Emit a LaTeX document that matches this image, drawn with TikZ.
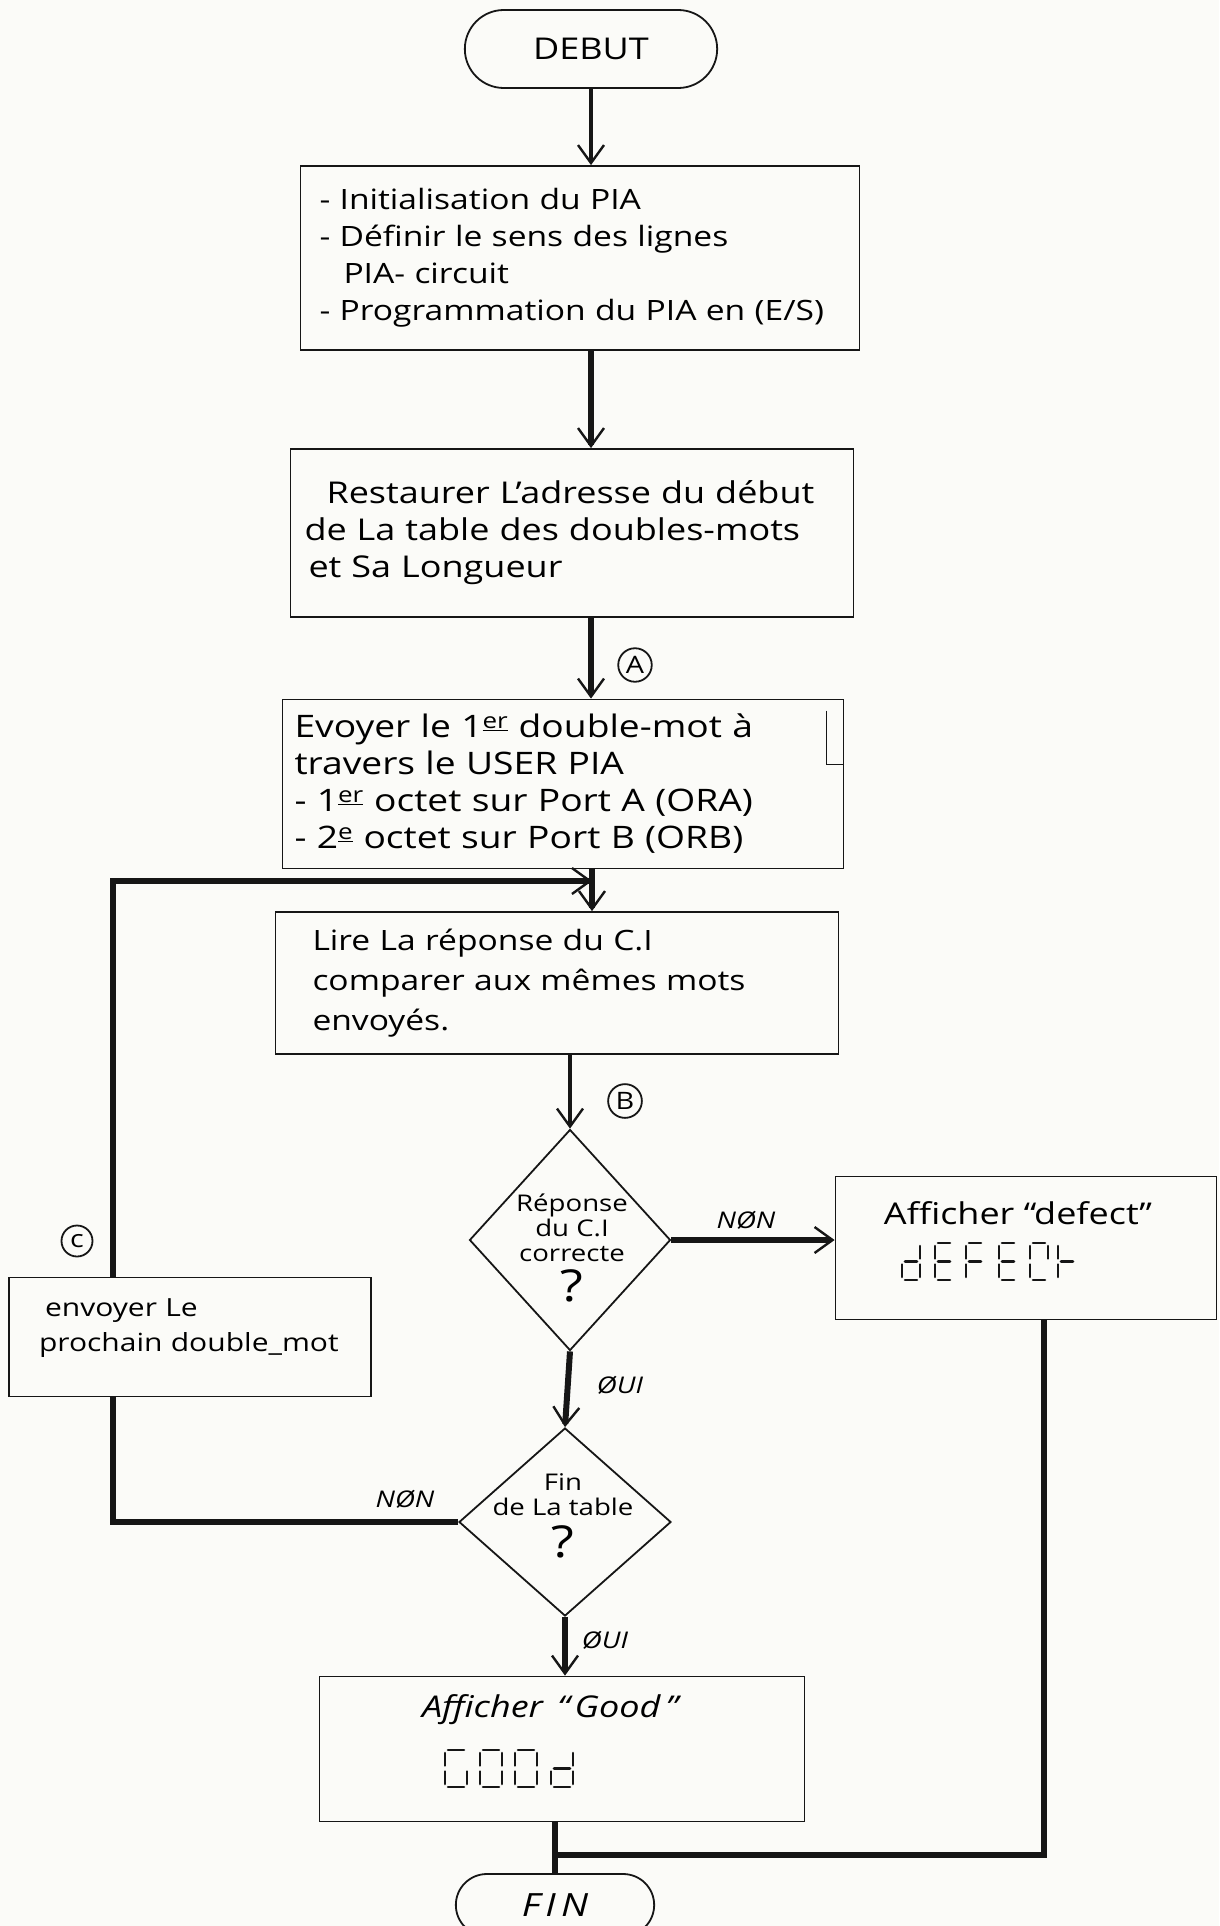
\documentclass[tikz,border=0pt]{standalone}
\usepackage{fontspec}
\usepackage{xcolor}
\usepackage{tikz}
\usetikzlibrary{shapes.geometric, shapes.misc, arrows.meta, positioning, calc}
\setmainfont{Open Sans}[FakeStretch=1.2]
\definecolor{inkColor}{RGB}{22, 22, 22}
\definecolor{paperColor}{RGB}{251, 251, 248}

% seven segment character: x, y (top left), width, height, segments
\newcommand{\sevenseg}[5]{%
  \begin{scope}[shift={(#1,#2)}, x=#3pt, y=-#4pt]
    \coordinate (a1) at (0,0);   \coordinate (a2) at (1,0);
    \coordinate (b1) at (1,0);   \coordinate (b2) at (1,0.5);
    \coordinate (c1) at (1,0.5); \coordinate (c2) at (1,1);
    \coordinate (d1) at (0,1);   \coordinate (d2) at (1,1);
    \coordinate (e1) at (0,0.5); \coordinate (e2) at (0,1);
    \coordinate (f1) at (0,0);   \coordinate (f2) at (0,0.5);
    \coordinate (g1) at (0,0.5); \coordinate (g2) at (1,0.5);
    \edef\seglist{#5}
    \foreach \s in \seglist { \draw[segment] (\s1) -- (\s2); }
  \end{scope}}

\begin{document}
\begin{tikzpicture}[
    x=1pt, y=-1pt,
    box/.style={
        rectangle,
        draw=inkColor,
        line width=1.8pt,
        align=left,
        font=\fontsize{28}{37}\selectfont
    },
    terminal/.style={rounded rectangle, draw=inkColor, line width=1.8pt,
        font=\fontsize{30}{36}\selectfont},
    decision/.style={diamond, draw=inkColor, line width=1.8pt, inner sep=0pt},
    question/.style={align=center, font=\fontsize{23}{25}\selectfont},
    flow/.style={draw=inkColor, line width=4pt,
        -{Straight Barb[length=18pt, width=26pt, line width=2.4pt]}},
    heavyflow/.style={flow, line width=6pt},
    heavyline/.style={draw=inkColor, line width=6pt},
    answer/.style={font=\itshape\fontsize{23}{25}\selectfont},
    ringlabel/.style={circle, draw=inkColor, line width=1.8pt, inner sep=3pt,
        minimum size=31pt, font=\fontsize{24}{24}\selectfont},
    title/.style={font=\fontsize{30}{36}\selectfont},
    segment/.style={draw=inkColor, line width=2.6pt, line cap=round,
        shorten <=3pt, shorten >=3pt}
]
    \path[use as bounding box, fill=paperColor] (0,0) rectangle (1219,1926);

    % Start
    \node[terminal, minimum width=259pt, minimum height=78pt] (debut) at (591,49) {DEBUT};

    % Set up
    \node[box, text width=521pt, inner xsep=19pt, minimum height=184pt] (init) at (580,258)
        {- Initialisation du PIA\\
         - Définir le sens des lignes\\
         \hspace*{24pt}PIA- circuit\\
         - Programmation du PIA en (E/S)};
    \node[box, text width=535pt, inner xsep=14pt, minimum height=168pt,
          font=\fontsize{30}{37}\selectfont] (restore) at (572,533)
        {\hspace*{22pt}Restaurer L’adresse du début\\
         de La table des doubles-mots\\
         \hspace*{4pt}et Sa Longueur};
    \node[box, text width=537pt, inner xsep=12pt, minimum height=169pt,
          font=\fontsize{31}{37}\selectfont] (send) at (563,784)
        {Evoyer le 1\textsuperscript{\underline{er}} double-mot à\\
         travers le USER PIA\\
         - 1\textsuperscript{\underline{er}} octet sur Port A (ORA)\\
         - 2\textsuperscript{\underline{e}} octet sur Port B (ORB)};
    \draw[draw=inkColor, line width=1.4pt] ($(send.north east)+(-18,12)$) -- ++(0,54) -- ++(18,0);

    % Read and compare
    \node[box, text width=489pt, inner xsep=37pt, minimum height=142pt,
          font=\fontsize{28}{40}\selectfont] (read) at (557,983)
        {Lire La réponse du C.I\\
         comparer aux mêmes mots\\
         envoyés.};

    % Tests
    \node[decision, minimum width=201pt, minimum height=221pt] (test) at (570,1240) {};
    \node[question] (testtxt) at (572,1248)
        {Réponse\\ du C.I\\ correcte\\[7pt] {\fontsize{44}{44}\selectfont ?}};
    \node[decision, minimum width=212pt, minimum height=188pt] (last) at (565,1522) {};
    \node[question] (lasttxt) at (563,1516)
        {Fin\\ de La table\\[9pt] {\fontsize{44}{44}\selectfont ?}};

    % Outcomes
    \node[box, minimum width=381pt, minimum height=143pt] (defect) at (1026,1248) {};
    \node[title] (defecttxt) at (1018,1213) {Afficher ``defect''};
    \node[box, text width=334pt, inner xsep=14pt, minimum height=119pt,
          font=\fontsize{25}{35}\selectfont] (next) at (190,1337)
        {\hspace*{22pt}envoyer Le\\ \hspace*{16pt}prochain double\_mot\\[-12pt]\mbox{}};
    \node[box, minimum width=485pt, minimum height=145pt] (good) at (562,1749) {};
    \node[title, font=\itshape\fontsize{30}{36}\selectfont] (goodtxt) at (550,1710)
        {Afficher \,``\,Good\,''};

    % End
    \node[terminal, minimum width=205pt, minimum height=62pt,
          font=\itshape\fontsize{32}{36}\selectfont] (fin) at (555,1905) {F\,I\,N};

    % Displays
    \sevenseg{902}{1243}{18}{37}{b,c,d,e,g}
    \sevenseg{935}{1243}{18}{37}{a,d,e,f,g}
    \sevenseg{966}{1243}{18}{37}{a,e,f,g}
    \sevenseg{999}{1243}{18}{37}{a,d,e,f,g}
    \sevenseg{1030}{1243}{18}{37}{a,b,d,e,f}
    \sevenseg{1058}{1243}{18}{37}{e,f,g}
    \sevenseg{445}{1750}{22}{37}{a,c,d,e,f}
    \sevenseg{480}{1750}{22}{37}{a,b,c,d,e,f}
    \sevenseg{515}{1750}{22}{37}{a,b,c,d,e,f}
    \sevenseg{551}{1750}{22}{37}{b,c,d,e,g}

    % Connections
    \coordinate (merge) at (592,881);
    \coordinate (loopcol) at (113,0);
    \coordinate (drop) at (1044,0);
    \coordinate (join) at (555,1855);

    \draw[flow] (debut.south) -- (init.north -| debut.south);
    \draw[heavyflow] (init.south -| debut.south) -- (restore.north -| debut.south);
    \draw[heavyflow] (restore.south -| debut.south) -- (send.north -| debut.south);
    \draw[heavyflow] (send.south -| merge) -- (read.north -| merge);
    \draw[flow] (read.south -| test.north) -- (test.north);
    \draw[heavyflow] (test.east) -- (test.east -| defect.west);
    \draw[heavyflow] (test.south) -- (last.north);
    \draw[heavyline] (last.west) -- (last.west -| loopcol) -- (next.south -| loopcol);
    \draw[heavyflow] (next.north -| loopcol) |- (merge);
    \draw[heavyflow] (last.south) -- (last.south |- good.north);
    \draw[heavyline] (good.south -| fin.north) -- (fin.north);
    \draw[heavyline] (defect.south -| drop) |- (join);

    % Labels
    \node[ringlabel] (labA) at (635,665) {A};
    \node[ringlabel] (labB) at (625,1101) {B};
    \node[ringlabel] (labC) at (77,1241) {c};
    \node[answer] (non1) at (746,1220) {NØN};
    \node[answer] (oui1) at (620,1385) {ØUI};
    \node[answer] (non2) at (405,1499) {NØN};
    \node[answer] (oui2) at (605,1640) {ØUI};

\end{tikzpicture}
\end{document}
